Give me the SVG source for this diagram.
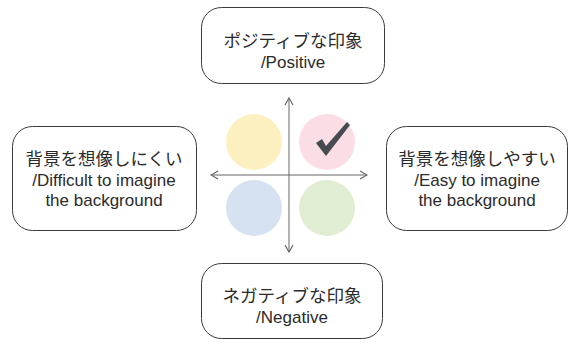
<svg xmlns="http://www.w3.org/2000/svg" width="573" height="343" viewBox="0 0 573 343">
<style>
.box{fill:#fff;stroke:#3a3a3a;stroke-width:1}
.jp{font-family:"Noto Sans CJK JP",sans-serif;font-size:17.5px;fill:#2b2b2b;text-anchor:middle}
.en{font-family:"Liberation Sans","Noto Sans CJK JP",sans-serif;font-size:17px;fill:#2b2b2b;text-anchor:middle}
.axis{stroke:#666;stroke-width:1;fill:none}
</style>
<defs>
<marker id="arr" viewBox="0 0 10 10" refX="9" refY="5" markerWidth="10" markerHeight="10" markerUnits="userSpaceOnUse" orient="auto">
<path d="M2,1 L9,5 L2,9" fill="none" stroke="#666" stroke-width="1.2"/>
</marker>
</defs>
<rect width="573" height="343" fill="#fff"/>
<g id="center">
<circle cx="254" cy="142" r="28" fill="#fdf0c0"/>
<circle cx="327" cy="142" r="28" fill="#fbdde6"/>
<circle cx="254" cy="208" r="28" fill="#d6e1f1"/>
<circle cx="327" cy="208" r="28" fill="#e0edd2"/>
<polygon points="316,143 322,139 326,146 347,122 350,125 326,156" fill="#464b50"/>
</g>
<g id="connectors">
<line class="axis" x1="289" y1="175" x2="289" y2="98" marker-end="url(#arr)"/>
<line class="axis" x1="289" y1="175" x2="289" y2="252" marker-end="url(#arr)"/>
<line class="axis" x1="289" y1="175" x2="211" y2="175" marker-end="url(#arr)"/>
<line class="axis" x1="289" y1="175" x2="367" y2="175" marker-end="url(#arr)"/>
</g>
<g id="positive">
<rect class="box" x="201.5" y="7.5" width="183" height="76" rx="20"/>
<text class="jp" x="293" y="47">ポジティブな印象</text>
<text class="en" x="293" y="68">/Positive</text>
</g>
<g id="negative">
<rect class="box" x="201.5" y="263.5" width="181" height="75" rx="20"/>
<text class="jp" x="292" y="302">ネガティブな印象</text>
<text class="en" x="292" y="323">/Negative</text>
</g>
<g id="difficult">
<rect class="box" x="12.5" y="126.5" width="184" height="104" rx="20"/>
<text class="jp" x="104" y="165">背景を想像しにくい</text>
<text class="en" x="104" y="186">/Difficult to imagine</text>
<text class="en" x="104" y="206">the background</text>
</g>
<g id="easy">
<rect class="box" x="386.5" y="126.5" width="181" height="104" rx="20"/>
<text class="jp" x="477" y="165">背景を想像しやすい</text>
<text class="en" x="477" y="186">/Easy to imagine</text>
<text class="en" x="477" y="206">the background</text>
</g>
</svg>
